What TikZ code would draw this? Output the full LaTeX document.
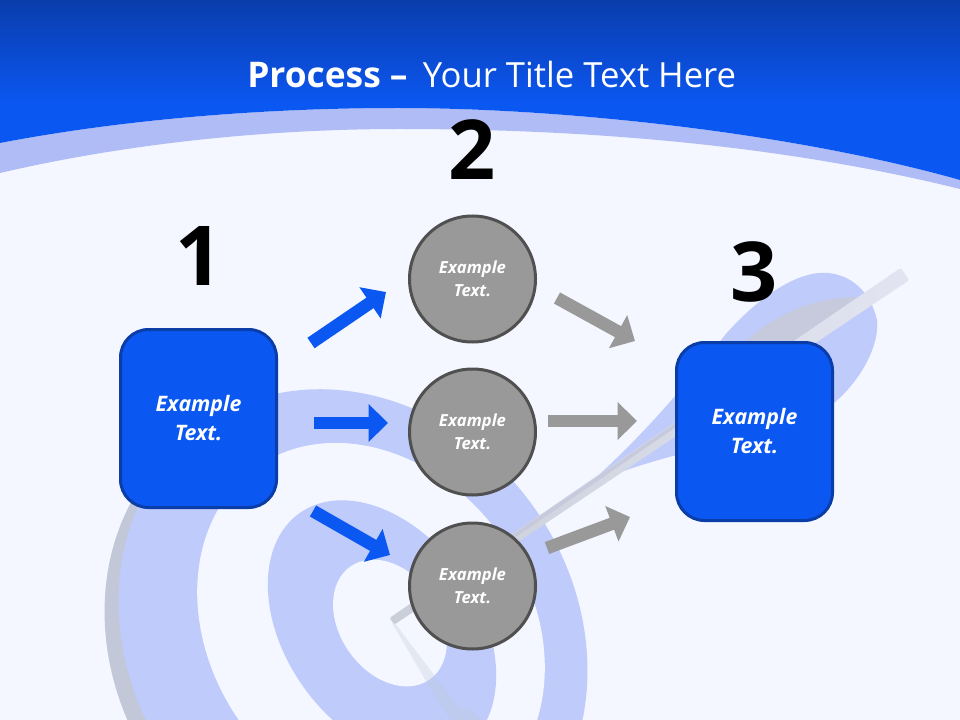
\documentclass[tikz,border=0pt]{standalone}
\usepackage{fontspec}
\setmainfont{Open Sans}
\usetikzlibrary{arrows.meta}
\definecolor{pagebg}{HTML}{F4F7FF}
\definecolor{headtop}{HTML}{0A3DAC}
\definecolor{headlow}{HTML}{0B57F2}
\definecolor{bandblue}{HTML}{B0BCF5}
\definecolor{ringblue}{HTML}{BFCBFA}
\definecolor{ringgrey}{HTML}{C2C8D8}
\definecolor{boxedge}{HTML}{0A3DA8}
\definecolor{circfill}{HTML}{999999}
\definecolor{circedge}{HTML}{505050}
\definecolor{shaftgrey}{HTML}{C9CED9}
\definecolor{shaftlight}{HTML}{E2E5F1}
\definecolor{featherdark}{HTML}{C6CADC}
\tikzset{
  bluebox/.style={draw=boxedge,fill=headlow,line width=2.25pt,rounded corners=21pt,minimum width=117pt,minimum height=133.5pt,align=center,text=white,font=\fontsize{16}{21.75}\selectfont\bfseries\itshape},
  greycirc/.style={circle,draw=circedge,fill=circfill,line width=2.25pt,minimum size=94.5pt,inner sep=0pt,align=center,text=white,font=\fontsize{12.5}{17.25}\selectfont\bfseries\itshape},
  bignum/.style={inner sep=0pt,font=\fontsize{62}{62}\selectfont\bfseries},
  bluearr/.style={draw=headlow,line width=9.5pt,-{Triangle[length=14.5pt,width=27.5pt,fill=headlow]}},
  greyarr/.style={draw=circfill,line width=9.5pt,-{Triangle[length=14.5pt,width=27.5pt,fill=circfill]}}
}
\begin{document}
\begin{tikzpicture}[x=0.75pt,y=0.75pt,yscale=-1,xscale=1]
\useasboundingbox (0,0) rectangle (960,720);
\begin{scope}
\clip (0,0) rectangle (960,720);
\fill[pagebg] (0,0) rectangle (960,720);

%Shape: Ellipse target rings
\fill[ringgrey,rotate around={55:(339,646)}] (339,646) ellipse (258 and 222);
\fill[ringblue,rotate around={55:(353,636)}] (353,636) ellipse (258 and 222);
\fill[pagebg,rotate around={55:(371,630)}] (371,630) ellipse (199 and 160);
\fill[ringblue,rotate around={55:(382,630)}] (382,630) ellipse (143 and 97);
\fill[pagebg,rotate around={55:(390,623)}] (390,623) ellipse (69 and 50);

%Shape: Feather
\fill[ringblue] (585,487) .. controls (640,440) and (690,380) .. (725,335) .. controls (760,295) and (800,270) .. (828,273) .. controls (850,275) and (870,290) .. (877,320) .. controls (880,345) and (860,385) .. (825,410) .. controls (770,440) and (660,450) .. (585,487) -- cycle;
\fill[featherdark] (730,360) .. controls (760,320) and (810,295) .. (866,297) -- (790,352) -- cycle;

%Straight Lines shaft and shadow
\fill[ringgrey,opacity=0.3] (392,623) -- (443,710) -- (452,720) -- (482,720) -- (468,707) -- (460,709) -- (394,622) -- cycle;
\shade[left color=shaftgrey,right color=shaftlight,rounded corners=1pt] (389.5,618) -- (900.8,267.8) -- (909.2,280.2) -- (394.5,624.5) -- cycle;
\fill[featherdark] (500,543.5) -- (690,413) -- (692,416) -- (502,546.5) -- cycle;

%Shape: Header band
\fill[bandblue] (0,143) .. controls (120,120) and (260,108) .. (398,108) .. controls (560,108) and (790,132) .. (960,180) -- (960,189) .. controls (790,147) and (600,129) .. (400,129) .. controls (260,129) and (120,145) .. (0,173) -- cycle;
\fill[headlow] (0,0) -- (960,0) -- (960,180) .. controls (790,132) and (560,108) .. (398,108) .. controls (260,108) and (120,120) .. (0,143) -- cycle;
\foreach \i [evaluate=\i as \mixval using \i/1.05] in {0,...,104}
  \fill[headlow!\mixval!headtop] (0,\i) rectangle (960,\i+1.5);
\end{scope}

% Text Node
\node[anchor=west,inner sep=0pt,text=white,font=\fontsize{26.5}{30}\selectfont] (title) at (247,75) {\textbf{Process --} \hspace{4.5pt}{\fontsize{26}{30}\selectfont Your Title Text Here}};

%Shape: Boxes and circles
\node[bluebox] (box1) at (198.5,418.5) {Example\\Text.};
\node[bluebox] (box3) at (754.5,431.5) {Example\\Text.};
\node[greycirc] (circ1) at (472.5,279) {Example\\Text.};
\node[greycirc] (circ2) at (472.5,432) {Example\\Text.};
\node[greycirc] (circ3) at (472.5,586) {Example\\Text.};

% Text Node
\node[bignum] (num1) at (199,256) {1};
\node[bignum] (num2) at (472,150) {2};
\node[bignum] (num3) at (754,272) {3};

%Straight Lines
\coordinate (b1s) at (311,343);
\coordinate (b1e) at (386,292);
\coordinate (b2s) at (314,423);
\coordinate (b2e) at (388,423);
\coordinate (b3s) at (313,511);
\coordinate (b3e) at (390,555);
\coordinate (g1s) at (557,298);
\coordinate (g1e) at (635,341);
\coordinate (g2s) at (548,421);
\coordinate (g2e) at (637,421);
\coordinate (g3s) at (547,548);
\coordinate (g3e) at (630,517);
\draw[bluearr] (b1s) -- (b1e);
\draw[bluearr] (b2s) -- (b2e);
\draw[bluearr] (b3s) -- (b3e);
\draw[greyarr] (g1s) -- (g1e);
\draw[greyarr] (g2s) -- (g2e);
\draw[greyarr] (g3s) -- (g3e);
\end{tikzpicture}
\end{document}
